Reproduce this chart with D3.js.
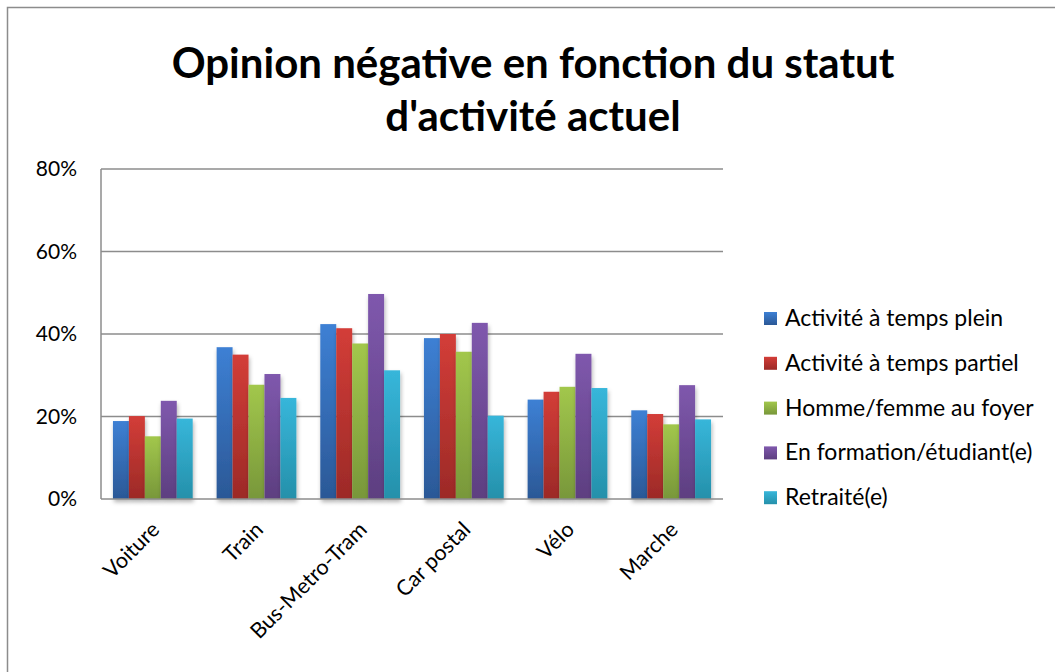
<!DOCTYPE html>
<html>
<head>
<meta charset="utf-8">
<script src="https://cdn.jsdelivr.net/npm/d3@7"></script>
<style>
  html, body { margin: 0; padding: 0; background: #fff; }
  svg { display: block; }
  text { font-family: Lato, "Open Sans", sans-serif; fill: #000; }
</style>
</head>
<body>
<svg id="chart" width="1055" height="672"></svg>
<script>
const categories = ["Voiture", "Train", "Bus-Metro-Tram", "Car postal", "Vélo", "Marche"];
const seriesNames = ["Activité à temps plein", "Activité à temps partiel", "Homme/femme au foyer", "En formation/étudiant(e)", "Retraité(e)"];
const activitePlein   = [18.9, 36.8, 42.4, 39.0, 24.1, 21.5];
const activitePartiel = [20.1, 35.0, 41.4, 40.0, 26.0, 20.6];
const foyer           = [15.2, 27.7, 37.7, 35.7, 27.2, 18.1];
const formation       = [23.8, 30.3, 49.7, 42.7, 35.2, 27.6];
const retraite        = [19.5, 24.5, 31.2, 20.2, 26.9, 19.3];
const yTicks = [0, 20, 40, 60, 80];
const titleLines = ["Opinion négative en fonction du statut", "d'activité actuel"];

const seriesValues = [activitePlein, activitePartiel, foyer, formation, retraite];
const colorsTop = ["#3d80d4", "#d33d38", "#a2c74c", "#7f58ad", "#37b6da"];
const colorsBot = ["#2b5896", "#9c2a27", "#78973a", "#5d3f80", "#2590aa"];

const svg = d3.select("#chart");
const defs = svg.append("defs");
seriesNames.forEach((s, i) => {
  const g = defs.append("linearGradient").attr("id", "grad" + i)
    .attr("x1", 0).attr("y1", 0).attr("x2", 0).attr("y2", 1);
  g.append("stop").attr("offset", "0%").attr("stop-color", colorsTop[i]);
  g.append("stop").attr("offset", "100%").attr("stop-color", colorsBot[i]);
});
const f = defs.append("filter").attr("id", "shadow").attr("x", "-20%").attr("y", "-5%").attr("width", "150%").attr("height", "115%");
f.append("feDropShadow").attr("dx", 1).attr("dy", 3).attr("stdDeviation", 2).attr("flood-color", "#000").attr("flood-opacity", 0.3);

// outer border
svg.append("rect").attr("x", 7.5).attr("y", 7.5).attr("width", 1100).attr("height", 700)
  .attr("fill", "#fff").attr("stroke", "#8c8c8c").attr("stroke-width", 1.5);

const plot = { left: 101, right: 723, top: 169, bottom: 499 };

const x0 = d3.scaleBand().domain(categories).range([plot.left, plot.right]).paddingInner(0.2308).paddingOuter(0.1154);
const x1 = d3.scaleBand().domain(d3.range(seriesNames.length)).range([0, x0.bandwidth()]);
const y = d3.scaleLinear().domain([0, 80]).range([plot.bottom, plot.top]);

// gridlines
svg.append("g").selectAll("line").data(yTicks.filter(t => t > 0)).join("line")
  .attr("x1", plot.left).attr("x2", plot.right)
  .attr("y1", d => y(d)).attr("y2", d => y(d))
  .attr("stroke", "#8c8c8c").attr("stroke-width", 1.5);

// bars
const groups = svg.append("g").selectAll("g").data(categories).join("g")
  .attr("transform", c => `translate(${x0(c)},0)`);
groups.selectAll("rect").data((c, ci) => seriesValues.map((vals, si) => ({ si, v: vals[ci] }))).join("rect")
  .attr("x", d => x1(d.si)).attr("width", x1.bandwidth())
  .attr("y", d => y(d.v)).attr("height", d => y(0) - y(d.v))
  .attr("fill", d => `url(#grad${d.si})`)
  .attr("filter", "url(#shadow)");

// axes lines
svg.append("line").attr("x1", plot.left).attr("x2", plot.left).attr("y1", plot.top).attr("y2", plot.bottom)
  .attr("stroke", "#8c8c8c").attr("stroke-width", 1.5);
svg.append("line").attr("x1", plot.left).attr("x2", plot.right).attr("y1", plot.bottom).attr("y2", plot.bottom)
  .attr("stroke", "#8c8c8c").attr("stroke-width", 1.5);

// y tick labels
svg.append("g").selectAll("text").data(yTicks).join("text")
  .attr("x", 77).attr("y", d => y(d)).attr("dy", "0.35em")
  .attr("text-anchor", "end").style("font-size", "21px")
  .text(d => d + "%");

// x labels
svg.append("g").selectAll("text").data(categories).join("text")
  .attr("text-anchor", "end").style("font-size", "21.5px")
  .attr("transform", c => `translate(${x0(c) + x0.bandwidth() / 2 + 8},${plot.bottom + 32}) rotate(-45)`)
  .text(c => c);

// title
svg.append("g").selectAll("text").data(titleLines).join("text")
  .attr("x", 533).attr("y", (d, i) => 78 + i * 53)
  .attr("text-anchor", "middle").style("font-size", "42px").style("font-weight", "bold")
  .text(d => d);

// legend
const leg = svg.append("g").selectAll("g").data(seriesNames).join("g")
  .attr("transform", (d, i) => `translate(764,${318 + i * 44.8})`);
leg.append("rect").attr("x", 0).attr("y", -6).attr("width", 13).attr("height", 13)
  .attr("fill", (d, i) => `url(#grad${i})`);
leg.append("text").attr("x", 21).attr("y", 0).attr("dy", "0.35em")
  .style("font-size", "23px").text(d => d);
</script>
</body>
</html>
